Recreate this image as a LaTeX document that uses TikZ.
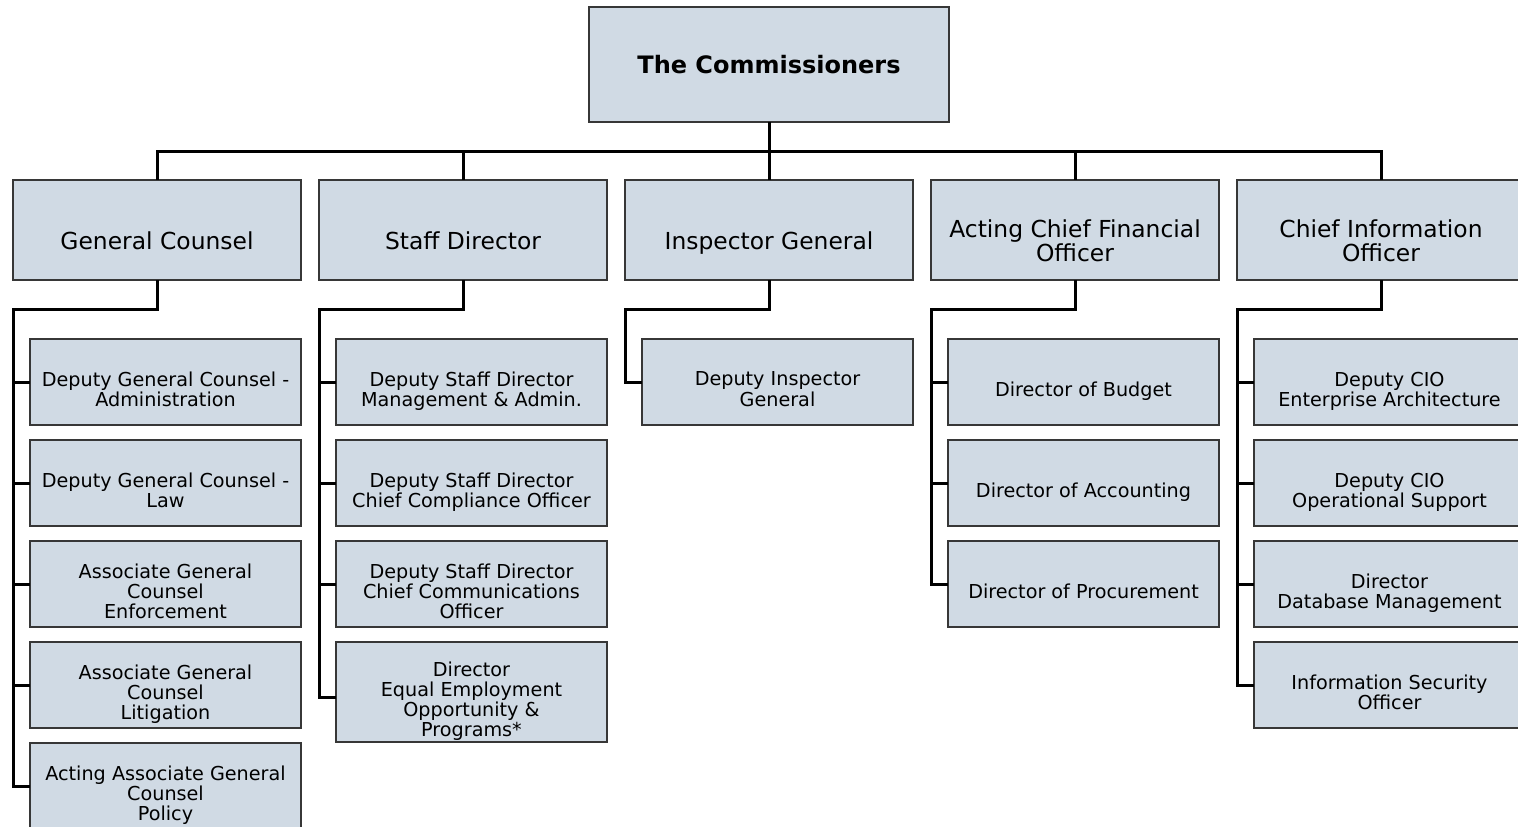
\documentclass[tikz,border=0pt]{standalone}
\usepackage{fontspec}
\setmainfont{DejaVu Sans}
\usepackage{tikz}
\usetikzlibrary{positioning}
\definecolor{boxfill}{RGB}{208,218,228}
\definecolor{boxline}{RGB}{55,55,55}
\newlength{\textdrop}
\newcommand{\lines}[1]{\raisebox{-\textdrop}[\height][\depth]{\begin{tabular}{@{}c@{}}#1\end{tabular}}}
\tikzset{
  box/.style={draw=boxline,fill=boxfill,line width=0.75pt,inner sep=0pt,outer sep=0pt},
  top/.style={box,minimum width=180pt,minimum height=57.5pt,font=\fontsize{12}{12}\selectfont\bfseries},
  head/.style={box,minimum width=144pt,minimum height=50pt,font=\fontsize{11.7}{11}\selectfont,
    execute at begin node={\setlength{\textdrop}{7pt}}},
  sub/.style={box,minimum width=135.5pt,minimum height=43pt,font=\fontsize{9.6}{9.6}\selectfont,
    execute at begin node={\setlength{\textdrop}{5pt}}},
  link/.style={draw=black,line width=1.5pt}
}

\begin{document}
\begin{tikzpicture}[x=0.5pt,y=-0.5pt]
    \clip (0,0) rectangle (1518,826);
    \coordinate (bus) at (769,151);

    \node[top] (comm) at (769,64.5) {The Commissioners};

    % first level
    \node[head] (gc) at (157,230) {\lines{General Counsel}};
    \node[head] (sd) [right=9pt of gc] {\lines{Staff Director}};
    \node[head] (ig) [right=9pt of sd] {\lines{Inspector General}};
    \node[head] (cfo) [right=9pt of ig] {\lines{Acting Chief Financial\\Officer}};
    \node[head] (cio) [right=9pt of cfo] {\lines{Chief Information\\Officer}};

    % general counsel
    \node[sub] (gc1) [below=29.5pt of gc.south east,anchor=north east] {\lines{Deputy General Counsel -\\Administration}};
    \node[sub] (gc2) [below=7.5pt of gc1] {\lines{Deputy General Counsel -\\Law}};
    \node[sub] (gc3) [below=7.5pt of gc2] {\lines{Associate General\\Counsel\\Enforcement}};
    \node[sub] (gc4) [below=7.5pt of gc3] {\lines{Associate General\\Counsel\\Litigation}};
    \node[sub] (gc5) [below=7.5pt of gc4] {\lines{Acting Associate General\\Counsel\\Policy}};

    % staff director
    \node[sub] (sd1) [below=29.5pt of sd.south east,anchor=north east] {\lines{Deputy Staff Director\\Management \& Admin.}};
    \node[sub] (sd2) [below=7.5pt of sd1] {\lines{Deputy Staff Director\\Chief Compliance Officer}};
    \node[sub] (sd3) [below=7.5pt of sd2] {\lines{Deputy Staff Director\\Chief Communications\\Officer}};
    \node[sub,minimum height=50pt] (sd4) [below=7.5pt of sd3] {\lines{Director\\Equal Employment\\Opportunity \&\\Programs*}};

    % inspector general
    \node[sub] (ig1) [below=29.5pt of ig.south east,anchor=north east] {\lines{Deputy Inspector\\General}};

    % chief financial officer
    \node[sub] (cfo1) [below=29.5pt of cfo.south east,anchor=north east] {\lines{Director of Budget}};
    \node[sub] (cfo2) [below=7.5pt of cfo1] {\lines{Director of Accounting}};
    \node[sub] (cfo3) [below=7.5pt of cfo2] {\lines{Director of Procurement}};

    % chief information officer
    \node[sub] (cio1) [below=29.5pt of cio.south east,anchor=north east] {\lines{Deputy CIO\\Enterprise Architecture}};
    \node[sub] (cio2) [below=7.5pt of cio1] {\lines{Deputy CIO\\Operational Support}};
    \node[sub] (cio3) [below=7.5pt of cio2] {\lines{Director\\Database Management}};
    \node[sub] (cio4) [below=7.5pt of cio3] {\lines{Information Security\\Officer}};

    % commissioners to first level
    \draw[link] (comm.south) |- (bus -| gc.north) -- (gc.north);
    \draw[link] (comm.south) |- (bus -| sd.north) -- (sd.north);
    \draw[link] (comm.south) -- (ig.north);
    \draw[link] (comm.south) |- (bus -| cfo.north) -- (cfo.north);
    \draw[link] (comm.south) |- (bus -| cio.north) -- (cio.north);

    % first level to staff
    \draw[link] (gc.south) -- ++(0,-14.5pt) -| (gc.west |- gc5.west) -- (gc5.west);
    \draw[link] (gc.west |- gc1.west) -- (gc1.west);
    \draw[link] (gc.west |- gc2.west) -- (gc2.west);
    \draw[link] (gc.west |- gc3.west) -- (gc3.west);
    \draw[link] (gc.west |- gc4.west) -- (gc4.west);

    \coordinate (sd4in) at ([yshift=-2.75pt]sd4.west);
    \draw[link] (sd.south) -- ++(0,-14.5pt) -| (sd.west |- sd4in) -- (sd4in);
    \draw[link] (sd.west |- sd1.west) -- (sd1.west);
    \draw[link] (sd.west |- sd2.west) -- (sd2.west);
    \draw[link] (sd.west |- sd3.west) -- (sd3.west);

    \draw[link] (ig.south) -- ++(0,-14.5pt) -| (ig.west |- ig1.west) -- (ig1.west);

    \draw[link] (cfo.south) -- ++(0,-14.5pt) -| (cfo.west |- cfo3.west) -- (cfo3.west);
    \draw[link] (cfo.west |- cfo1.west) -- (cfo1.west);
    \draw[link] (cfo.west |- cfo2.west) -- (cfo2.west);

    \draw[link] (cio.south) -- ++(0,-14.5pt) -| (cio.west |- cio4.west) -- (cio4.west);
    \draw[link] (cio.west |- cio1.west) -- (cio1.west);
    \draw[link] (cio.west |- cio2.west) -- (cio2.west);
    \draw[link] (cio.west |- cio3.west) -- (cio3.west);
\end{tikzpicture}
\end{document}
